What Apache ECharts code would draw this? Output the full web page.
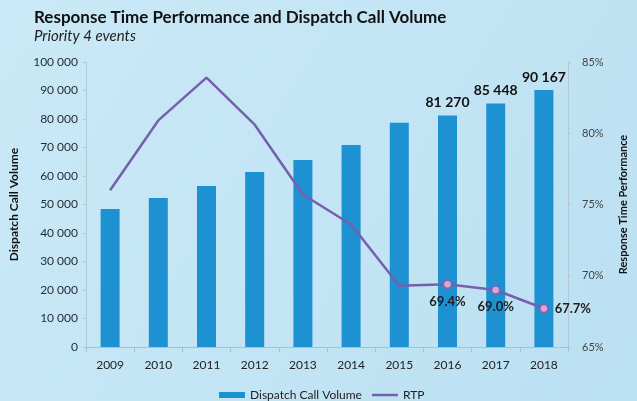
<!DOCTYPE html>
<html>
<head>
<meta charset="utf-8">
<script src="https://cdn.jsdelivr.net/npm/echarts@6/dist/echarts.min.js"></script>
<style>
  html, body { margin: 0; padding: 0; }
  #chart { width: 637px; height: 401px; }
</style>
</head>
<body>
<div id="chart"></div>
<script>
var years = ['2009', '2010', '2011', '2012', '2013', '2014', '2015', '2016', '2017', '2018'];
var callVolume = [48400, 52300, 56500, 61400, 65600, 70900, 78700, 81270, 85448, 90167];
var rtp = [76.0, 80.9, 83.9, 80.6, 75.7, 73.6, 69.3, 69.4, 69.0, 67.7];
var labelFrom = 7; // only the last three years carry labels

function fmtThousands(v) {
  return String(v).replace(/\B(?=(\d{3})+(?!\d))/g, ' ');
}

var myChart = echarts.init(document.getElementById('chart'));

var barData = callVolume.map(function (v, i) {
  return {
    value: v,
    label: { show: i >= labelFrom }
  };
});

var lineData = rtp.map(function (v, i) {
  var item = { value: v };
  if (i >= labelFrom) {
    item.symbol = 'circle';
    item.symbolSize = 8;
    item.label = {
      show: true,
      position: i === rtp.length - 1 ? 'right' : 'bottom',
      distance: 6
    };
  }
  return item;
});

myChart.setOption({
  backgroundColor: new echarts.graphic.LinearGradient(0, 0, 1, 1, [
    { offset: 0, color: '#cbe9f7' },
    { offset: 1, color: '#bbe0f2' }
  ]),
  textStyle: { fontFamily: 'Lato' },
  title: {
    text: 'Response Time Performance and Dispatch Call Volume',
    subtext: 'Priority 4 events',
    left: 29,
    top: 4,
    itemGap: 3,
    textStyle: { fontSize: 17, fontWeight: 'bold', color: '#111', fontFamily: 'Lato' },
    subtextStyle: { fontSize: 15, fontStyle: 'italic', color: '#1d1d1d', fontFamily: 'Lato' }
  },
  legend: {
    left: 214,
    top: 384,
    itemGap: 10,
    textStyle: { fontSize: 12, color: '#222' },
    data: [
      { name: 'Dispatch Call Volume', icon: 'rect', itemStyle: { color: '#1e91d2' } },
      { name: 'RTP', icon: 'path://M0,0 H26 V2.5 H0 Z', itemStyle: { color: '#7660ad', borderWidth: 0 } }
    ],
    itemWidth: 26,
    itemHeight: 6
  },
  grid: {
    left: 82,
    right: 55,
    top: 62,
    bottom: 54
  },
  xAxis: {
    type: 'category',
    data: years,
    boundaryGap: true,
    axisLine: { lineStyle: { color: '#a9bfcb', width: 1 } },
    axisTick: { show: true, lineStyle: { color: '#a9bfcb' } },
    axisLabel: { fontSize: 12, color: '#222', margin: 12 }
  },
  yAxis: [
    {
      type: 'value',
      min: 0,
      max: 100000,
      interval: 10000,
      name: 'Dispatch Call Volume',
      nameLocation: 'middle',
      nameGap: 66,
      nameTextStyle: { fontSize: 12, fontWeight: 'bold', color: '#111' },
      axisLine: { show: true, lineStyle: { color: '#b4c8d2' } },
      axisTick: { show: true, length: 3, lineStyle: { color: '#b4c8d2' } },
      splitLine: { show: false },
      axisLabel: {
        fontSize: 12,
        color: '#1f2a33',
        margin: 8,
        formatter: function (v) { return fmtThousands(v); }
      }
    },
    {
      type: 'value',
      min: 65,
      max: 85,
      interval: 5,
      name: 'Response Time Performance',
      nameLocation: 'middle',
      nameGap: 50,
      nameRotate: 90,
      nameTextStyle: { fontSize: 11, fontWeight: 'bold', color: '#111' },
      axisLine: { show: true, lineStyle: { color: '#b4c8d2' } },
      axisTick: { show: true, length: 3, lineStyle: { color: '#b4c8d2' } },
      splitLine: { show: false },
      axisLabel: {
        fontSize: 11,
        color: '#444',
        margin: 14,
        formatter: '{value}%'
      }
    }
  ],
  series: [
    {
      name: 'Dispatch Call Volume',
      type: 'bar',
      barWidth: 19,
      yAxisIndex: 0,
      itemStyle: { color: '#1e91d2' },
      label: {
        position: 'top',
        distance: 6,
        fontSize: 14,
        fontWeight: 'bold',
        color: '#111',
        formatter: function (p) { return fmtThousands(p.value); }
      },
      data: barData
    },
    {
      name: 'RTP',
      type: 'line',
      yAxisIndex: 1,
      symbol: 'none',
      lineStyle: { color: '#7660ad', width: 2.5 },
      itemStyle: { color: '#dba6d6', borderColor: '#8a5fa8', borderWidth: 1.5 },
      label: {
        fontSize: 13,
        fontWeight: 'bold',
        color: '#1d1d1d',
        formatter: function (p) { return p.value.toFixed(1) + '%'; }
      },
      data: lineData
    }
  ]
});
</script>
</body>
</html>
